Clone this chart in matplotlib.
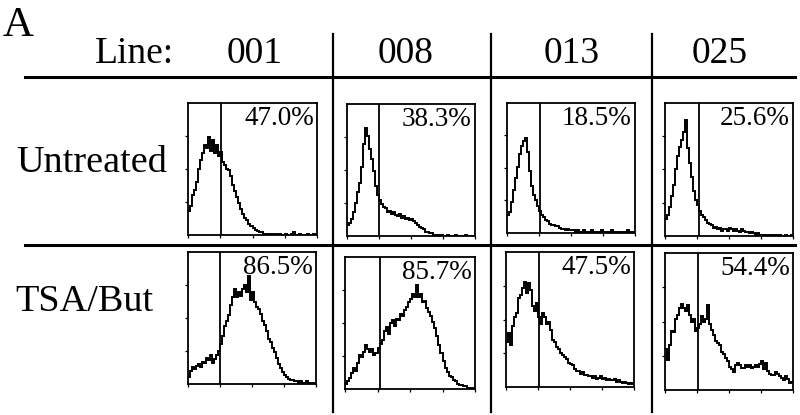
import matplotlib
matplotlib.use("Agg")
import matplotlib.pyplot as plt
from matplotlib.lines import Line2D
import numpy as np

plt.rcParams["font.family"] = ["Liberation Serif", "DejaVu Serif"]

W, H = 800, 415

lines = ["001", "008", "013", "025"]
treatments = ["Untreated", "TSA/But"]

# percent of cells above the gate
pct = [["47.0%", "38.3%", "18.5%", "25.6%"],
       ["86.5%", "85.7%", "47.5%", "54.4%"]]

# gate marker position (fluorescence, log axis 1..1e4)
gates = [[10.6, 10.0, 10.8, 11.6],
         [10.0, 11.9, 10.8, 10.8]]

# histogram heights (% of panel height), 64 log-spaced channels over 4 decades
h_unt_001 = [18, 22, 30, 34, 40, 50, 57, 62, 68, 66, 74, 64, 72, 62, 68, 60,
             63, 55, 53, 50, 49, 45, 38, 33, 29, 24, 20, 16, 13, 11, 8, 7,
             5, 4, 3, 2, 2, 1, 1, 1, 1, 0, 1, 1, 0, 1, 0, 0,
             1, 0, 0, 1, 2, 0, 0, 1, 0, 0, 0, 1, 0, 0, 1, 0]
h_unt_008 = [8, 10, 13, 18, 25, 33, 40, 52, 70, 82, 76, 66, 58, 49, 38, 31,
             27, 24, 22, 21, 18, 19, 17, 18, 16, 15, 17, 14, 15, 13, 14, 12,
             13, 11, 10, 8, 7, 6, 5, 3, 3, 2, 2, 1, 1, 1, 0, 1,
             0, 0, 1, 0, 0, 0, 1, 0, 0, 0, 0, 1, 0, 0, 0, 0]
h_unt_013 = [14, 16, 24, 33, 42, 51, 61, 67, 71, 73, 62, 48, 36, 29, 25, 21,
             17, 14, 12, 10, 9, 7, 6, 6, 5, 5, 4, 3, 3, 2, 3, 2,
             2, 2, 1, 2, 1, 1, 2, 1, 1, 1, 2, 1, 1, 1, 1, 2,
             1, 1, 1, 1, 2, 1, 1, 1, 1, 1, 1, 1, 2, 1, 1, 1]
h_unt_025 = [13, 16, 22, 30, 38, 50, 60, 67, 72, 78, 87, 66, 55, 44, 34, 27,
             23, 19, 16, 14, 12, 10, 9, 8, 6, 7, 5, 6, 4, 5, 5, 4,
             6, 5, 4, 5, 4, 3, 5, 4, 3, 3, 2, 3, 2, 1, 2, 1,
             1, 1, 1, 0, 1, 1, 0, 1, 0, 1, 0, 0, 1, 0, 0, 1]
h_tsa_001 = [5, 10, 13, 11, 14, 15, 13, 17, 16, 20, 18, 22, 16, 19, 22, 25,
             30, 36, 44, 48, 52, 60, 66, 72, 66, 70, 67, 72, 75, 70, 82, 64,
             70, 62, 58, 57, 53, 48, 45, 40, 34, 32, 27, 24, 20, 15, 12, 9,
             7, 5, 4, 3, 3, 2, 2, 1, 2, 1, 1, 2, 1, 1, 1, 0]
h_tsa_008 = [4, 6, 8, 12, 16, 14, 20, 26, 24, 28, 33, 30, 28, 30, 26, 27,
             31, 34, 37, 44, 47, 42, 50, 52, 48, 53, 52, 57, 55, 60, 62, 66,
             68, 72, 70, 79, 70, 72, 66, 67, 61, 58, 55, 51, 46, 40, 33, 27,
             21, 16, 13, 10, 9, 7, 6, 4, 3, 3, 2, 2, 1, 1, 1, 0]
h_tsa_013 = [33, 40, 31, 45, 52, 55, 66, 68, 73, 78, 70, 77, 72, 60, 56, 62,
             52, 47, 55, 52, 47, 48, 42, 35, 33, 30, 28, 25, 24, 22, 21, 18,
             17, 16, 13, 12, 12, 10, 11, 9, 9, 8, 8, 7, 8, 6, 7, 8,
             6, 7, 5, 6, 5, 5, 6, 4, 5, 4, 3, 4, 3, 2, 3, 2]
h_tsa_025 = [30, 22, 33, 43, 42, 52, 55, 60, 63, 60, 58, 62, 55, 50, 52, 43,
             45, 48, 54, 50, 52, 62, 48, 44, 40, 36, 34, 33, 28, 26, 23, 21,
             17, 15, 13, 18, 20, 18, 16, 16, 18, 17, 18, 16, 17, 18, 17, 19,
             21, 15, 20, 14, 12, 11, 11, 13, 12, 10, 9, 7, 10, 8, 5, 6]

hists = [[h_unt_001, h_unt_008, h_unt_013, h_unt_025],
         [h_tsa_001, h_tsa_008, h_tsa_013, h_tsa_025]]

# panel boxes in pixels: (left, top, right, bottom)
boxes = [[(188, 103, 317, 235), (347, 104, 475, 236),
          (507, 103, 635, 233), (665, 103, 793, 236)],
         [(188, 252, 316, 384), (345, 257, 475, 389),
          (506, 252, 634, 387), (665, 253, 793, 390)]]


def fx(x):
    return x / W


def fy(y):
    return 1 - y / H


fig = plt.figure(figsize=(W / 100, H / 100), dpi=100)
fig.patch.set_facecolor("white")

# grid rules
for yy in (77, 245):
    fig.add_artist(Line2D([fx(25), fx(795)], [fy(yy), fy(yy)],
                          transform=fig.transFigure, color="black", lw=2.2))
for xx in (333, 491, 652):
    fig.add_artist(Line2D([fx(xx), fx(xx)], [fy(34), fy(412)],
                          transform=fig.transFigure, color="black", lw=1.6))

fig.text(fx(3), fy(36), "A", fontsize=31, ha="left", va="baseline")
fig.text(fx(134), fy(63), "Line:", fontsize=27, ha="center", va="baseline")
for k, name in enumerate(lines):
    cx = [255, 406, 572, 720][k]
    fig.text(fx(cx), fy(63), name, fontsize=27, ha="center", va="baseline")

fig.text(fx(92), fy(163), treatments[0], fontsize=27.5, ha="center", va="center")
fig.text(fx(84), fy(302), treatments[1], fontsize=27.5, ha="center", va="center")

edges = np.logspace(0, 4, 65)

for r in range(2):
    for c in range(4):
        x0, y0, x1, y1 = boxes[r][c]
        ax = fig.add_axes([fx(x0), fy(y1), (x1 - x0) / W, (y1 - y0) / H])
        ax.stairs(hists[r][c], edges, baseline=None, color="black", lw=1.4)
        ax.axvline(gates[r][c], color="black", lw=1.3)
        ax.set_xscale("log")
        ax.set_xlim(1, 1e4)
        ax.set_ylim(0, 100)
        ax.set_yticks([25, 50, 75])
        ax.set_xticks([1, 10, 100, 1000, 10000])
        ax.tick_params(axis="both", which="major", direction="out",
                       length=2.5, width=0.9, labelleft=False,
                       labelbottom=False)
        ax.tick_params(axis="x", which="minor", direction="out",
                       length=1.8, width=0.8, labelbottom=False)
        for s in ax.spines.values():
            s.set_linewidth(1.3)
        ax.text(0.975, 0.975, pct[r][c], transform=ax.transAxes,
                ha="right", va="top", fontsize=19.5)

fig.savefig("out.png", dpi=100, facecolor="white")
